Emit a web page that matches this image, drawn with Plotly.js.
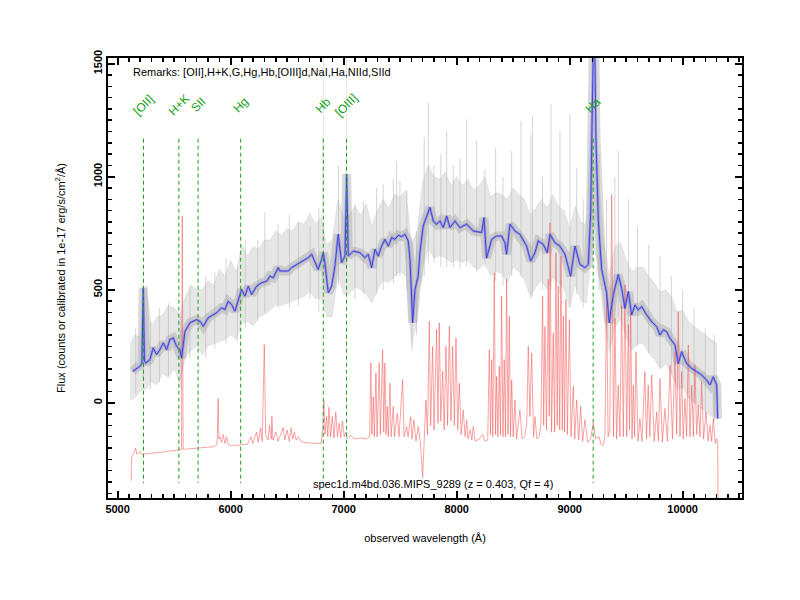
<!DOCTYPE html>
<html>
<head>
<meta charset="utf-8">
<script src="https://cdn.plot.ly/plotly-3.0.1.min.js"></script>
<style>html,body{margin:0;padding:0;background:#fff;}#chart{width:800px;height:600px;}</style>
</head>
<body>
<div id="chart"></div>
<script>
// ---------- data ----------
const blue_x = [5133,5165,5197,5215,5227,5238,5250,5286,5315,5345,5374,5404,5434,5463,5492,5522,5551,5566,5580,5596,5640,5699,5728,5758,5802,5846,5876,5920,5950,5979,6009,6038,6082,6097,6127,6156,6186,6230,6274,6319,6348,6377,6421,6436,6466,6510,6540,6584,6643,6687,6717,6746,6775,6805,6820,6834,6864,6894,6923,6952,6982,7012,7027,7041,7085,7144,7189,7218,7248,7277,7306,7336,7365,7395,7425,7454,7483,7513,7542,7572,7587,7611,7631,7660,7675,7704,7735,7764,7793,7823,7852,7882,7912,7941,7985,8029,8089,8147,8221,8242,8265,8310,8354,8398,8427,8442,8472,8516,8560,8619,8655,8693,8722,8766,8802,8826,8870,8914,8958,9009,9047,9091,9135,9165,9186,9200,9206,9216,9233,9253,9283,9327,9350,9386,9430,9460,9489,9519,9549,9578,9607,9637,9681,9726,9770,9799,9828,9858,9888,9932,9961,9991,10035,10080,10124,10168,10212,10242,10271,10301,10310];
const blue_y = [139,150,161,175,509,185,176,191,243,213,235,265,235,280,287,250,235,198,260,316,354,368,361,339,376,390,398,420,413,449,435,405,472,501,472,516,479,516,531,538,560,553,598,583,583,583,598,612,627,642,657,620,590,634,664,620,487,516,605,745,620,649,1012,649,671,664,642,657,598,679,649,693,723,693,731,723,741,735,745,716,634,354,501,560,664,782,826,864,804,790,804,775,826,775,804,775,790,760,753,819,640,723,738,738,708,657,790,760,745,693,627,664,716,701,664,745,708,693,657,560,693,612,598,612,842,1226,1800,1800,1167,812,590,487,354,478,567,507,418,492,389,433,411,426,389,359,337,300,323,315,285,256,174,226,174,152,138,123,101,79,115,79,-70];

const gray_x  = [5110,5150,5200,5250,5300,5350,5400,5450,5500,5550,5600,5650,5700,5750,5800,5850,5900,5950,6000,6050,6100,6150,6200,6250,6300,6350,6400,6450,6500,6550,6600,6650,6700,6750,6800,6850,6900,6950,7000,7050,7100,7150,7200,7250,7300,7350,7400,7450,7500,7550,7600,7650,7700,7750,7800,7850,7900,7950,8000,8050,8100,8150,8200,8250,8300,8350,8400,8450,8500,8550,8600,8650,8700,8750,8800,8850,8900,8950,9000,9050,9100,9150,9200,9250,9300,9350,9400,9450,9500,9550,9600,9650,9700,9750,9800,9850,9900,9950,10000,10050,10100,10150,10200,10250,10305];
const gray_hi = [260,300,290,520,340,380,390,430,420,390,470,520,500,500,540,520,590,560,630,580,700,650,690,680,720,720,760,740,770,760,800,790,840,790,820,700,720,900,820,830,870,830,880,780,850,900,860,920,910,940,700,760,980,1050,1000,990,1020,960,1000,960,990,940,960,1000,910,930,920,900,950,920,900,830,860,900,860,920,870,850,770,870,800,790,1400,1000,720,560,690,710,630,580,600,600,560,530,490,500,470,400,410,360,340,320,300,280,260];
const gray_lo = [10,20,50,60,90,80,130,110,150,90,200,230,250,210,250,260,270,280,300,280,350,360,340,380,390,410,430,430,440,450,460,470,490,460,460,380,380,560,480,480,510,500,480,440,500,540,530,560,580,560,250,360,600,680,640,650,640,620,630,620,630,600,590,620,560,580,570,530,600,580,540,470,510,540,500,550,530,500,420,520,450,440,700,620,380,220,330,370,290,230,260,260,220,190,150,170,130,60,70,20,0,-20,-40,-60,-60];

// vertical grey streaks (individual noisy spectra)
const streak_x  = [5160,5227,5290,5370,5450,5560,5640,5780,5860,5960,6060,6130,6240,6303,6420,6520,6600,6702,6780,6955,7100,7174,7292,7350,7440,7469,7498,7560,7605,7645,7713,7749,7800,7860,7912,7970,8030,8089,8177,8250,8345,8410,8487,8569,8657,8672,8760,8835,8914,9003,9062,9120,9260,9327,9400,9430,9520,9600,9700,9800,9900,10000,10100,10200,10280];
const streak_lo = [40,100,60,90,120,60,200,200,240,260,270,330,360,400,420,420,430,460,400,520,460,480,480,500,530,560,560,500,230,300,560,620,620,600,600,600,590,600,580,600,540,520,560,560,460,470,500,500,480,420,480,420,500,330,350,380,300,250,220,150,120,60,0,-50,-80];
const streak_hi = [330,520,360,420,440,380,520,560,580,640,600,720,720,843,790,830,800,782,860,1048,880,892,951,966,989,1069,980,940,700,760,1173,1328,1050,1100,1202,1050,1080,1254,1158,1032,1128,1000,1114,1247,1188,1269,1000,1321,1202,1276,1040,900,1100,900,1000,1114,900,780,700,650,560,500,420,330,300];

// faint full-height grey marks at Hb and [OIII]
const faint_x = [6820, 7025];

const red_x = [5120,5124,5150,5160,5170,5200,5210,5250,5300,5350,5400,5450,5500,5540,5565,5572,5580,5600,5650,5700,5750,5800,5850,5880,5890,5896,5905,5920,5935,5950,5965,5980,6000,6050,6100,6150,6180,6195,6230,6245,6265,6280,6298,6310,6330,6345,6360,6365,6375,6400,6420,6465,6480,6500,6520,6535,6550,6565,6580,6600,6620,6650,6700,6750,6800,6815,6825,6835,6850,6860,6870,6885,6900,6915,6930,6945,6960,6975,6990,7005,7020,7030,7060,7100,7150,7200,7230,7241,7250,7262,7272,7286,7296,7315,7325,7345,7355,7365,7375,7386,7395,7410,7420,7439,7450,7474,7490,7522,7535,7557,7570,7593,7605,7622,7640,7660,7680,7699,7712,7728,7742,7758,7770,7788,7800,7811,7823,7835,7846,7860,7876,7890,7905,7920,7935,7950,7965,7980,7994,8010,8023,8040,8058,8075,8089,8100,8120,8135,8147,8165,8200,8230,8250,8275,8289,8300,8310,8320,8333,8344,8354,8365,8377,8388,8398,8410,8421,8432,8442,8455,8466,8477,8487,8500,8516,8530,8560,8580,8600,8620,8634,8648,8664,8680,8693,8710,8730,8745,8761,8770,8781,8795,8811,8820,8826,8840,8855,8867,8879,8890,8899,8912,8923,8935,8944,8955,8967,8980,8997,9012,9032,9045,9062,9080,9097,9115,9135,9160,9185,9209,9230,9260,9280,9297,9312,9327,9340,9355,9372,9388,9401,9415,9430,9445,9460,9475,9489,9505,9519,9530,9540,9552,9563,9575,9587,9605,9622,9640,9666,9680,9695,9710,9726,9748,9770,9785,9799,9820,9843,9865,9888,9910,9932,9947,9961,9976,9991,10005,10020,10035,10050,10065,10080,10095,10109,10124,10138,10153,10168,10185,10206,10225,10242,10256,10271,10288,10301,10310,10314];
const red_y = [-345,-240,-215,-200,-228,-215,-228,-225,-222,-220,-218,-214,-212,-210,-206,826,-205,-205,-203,-202,-200,-198,-194,-185,20,-160,-150,-175,-140,-180,-150,-185,-188,-188,-186,-183,-150,-180,-130,-175,-110,-170,257,-140,-165,-100,-160,-60,-165,-130,-170,-110,-165,-120,-170,-110,-160,-130,-165,-150,-170,-175,-178,-180,-180,-120,10,-140,-60,-150,-20,-150,-60,-155,-40,-150,-90,-155,-80,-150,-130,-160,-145,-160,-155,-160,-150,176,-140,28,-150,132,-150,176,-140,235,-130,176,-140,-16,-150,87,-150,-16,-150,-46,-150,102,-150,-105,-150,-61,-160,-75,-170,-105,-180,-330,-150,13,-140,361,-100,250,-120,120,324,-90,354,-80,139,-120,250,-100,338,-80,250,-100,287,-120,87,-140,-31,-150,-75,-160,-120,-165,-105,-170,-160,-140,-170,-165,235,-140,191,-150,575,-140,117,-150,161,-140,472,-150,191,-150,546,-140,383,-150,102,-150,13,-160,-31,-160,-150,-100,250,-60,220,-150,-61,-160,-150,-100,472,-100,338,-120,546,-60,797,-130,309,-130,664,-100,516,-120,649,-120,383,-130,457,-140,368,-150,72,-160,13,-165,-16,-170,-75,-175,-160,-90,-160,-150,-185,-188,-150,480,-150,-120,921,-150,374,-160,78,-150,433,-150,522,-150,345,-120,404,-160,78,-150,226,-170,-70,-170,138,-160,78,-150,123,-170,-40,-170,108,-175,-25,-170,167,-160,226,-140,404,-150,138,-160,19,-150,256,-150,78,-150,167,-140,-10,-150,93,-160,-40,-170,-99,-170,-70,-180,-158,-190,-520];

// identified lines (observed wavelength) and labels
const line_x     = [5229, 5542, 5712, 6089, 6820, 7025, 9208];
const line_names = ['[OII]', 'H+K', 'SII', 'Hg', 'Hb', '[OIII]', 'Ha'];

const remarks  = 'Remarks: [OII],H+K,G,Hg,Hb,[OIII]d,NaI,Ha,NIId,SIId';
const specname = 'spec1d.m4bd.036.MIPS_9289 (z = 0.403, Qf = 4)';
const x_title  = 'observed wavelength (Å)';
const y_title  = 'Flux (counts or calibrated in 1e-17 erg/s/cm<sup>2</sup>/Å)';

// ---------- build traces ----------
const FONT = 'Liberation Sans, Arial, Helvetica, sans-serif';
const traces = [];

// grey envelope
traces.push({x: gray_x, y: gray_lo, mode: 'lines', line: {color: 'rgba(205,205,205,0.5)', width: 0.5}, hoverinfo: 'skip'});
traces.push({x: gray_x, y: gray_hi, mode: 'lines', fill: 'tonexty', fillcolor: 'rgba(210,210,210,0.55)', line: {color: 'rgba(200,200,200,0.6)', width: 0.6}, hoverinfo: 'skip'});

// grey streaks
const sx = [], sy = [];
streak_x.forEach((v, i) => { sx.push(v, v, null); sy.push(streak_lo[i], streak_hi[i], null); });
traces.push({x: sx, y: sy, mode: 'lines', line: {color: 'rgba(185,185,185,0.75)', width: 0.8}, hoverinfo: 'skip'});

const fx = [], fy = [];
faint_x.forEach(v => { fx.push(v, v, null); fy.push(600, 1600, null); });
traces.push({x: fx, y: fy, mode: 'lines', line: {color: 'rgba(205,205,205,0.7)', width: 0.8}, hoverinfo: 'skip'});

// grey core following mean
traces.push({x: blue_x, y: blue_y, mode: 'lines', line: {color: 'rgba(165,165,165,0.42)', width: 9}, hoverinfo: 'skip'});

// red spectrum
traces.push({x: red_x, y: red_y, mode: 'lines', line: {color: 'rgba(245,90,90,0.7)', width: 0.8}, hoverinfo: 'skip'});

// blue band + line
traces.push({x: blue_x, y: blue_y, mode: 'lines', line: {color: 'rgba(110,110,235,0.5)', width: 2.6}, hoverinfo: 'skip'});
traces.push({x: blue_x, y: blue_y, mode: 'lines', line: {color: 'rgb(60,60,215)', width: 0.9}, hoverinfo: 'skip'});

// green dashed line markers
const gx = [], gy = [];
line_x.forEach(v => { gx.push(v, v, null); gy.push(1168, -355, null); });
traces.push({x: gx, y: gy, mode: 'lines', line: {color: 'rgb(30,160,30)', width: 1, dash: '4px,3px'}, hoverinfo: 'skip'});

const annotations = line_x.map((v, i) => ({
  x: v, y: 1318, xref: 'x', yref: 'y', text: line_names[i], showarrow: false,
  textangle: -45, xanchor: 'center', yanchor: 'middle',
  font: {family: FONT, size: 12, color: 'rgb(20,160,20)'}
}));
annotations.push({x: 5115, y: 1462, xref: 'x', yref: 'y', text: remarks, showarrow: false, xanchor: 'left', yanchor: 'middle', font: {family: FONT, size: 11, color: 'black'}});
annotations.push({x: 7790, y: -357, xref: 'x', yref: 'y', text: specname, showarrow: false, xanchor: 'center', yanchor: 'middle', font: {family: FONT, size: 11, color: 'black'}});

const axisCommon = {
  showgrid: false, zeroline: false, showline: true, linecolor: 'black', linewidth: 2,
  mirror: 'ticks', ticks: 'inside', ticklen: 7, tickwidth: 2, tickcolor: 'black',
  tickformat: 'd',
  tickfont: {family: FONT, size: 11, color: 'black', weight: 'bold'},
  fixedrange: true
};

const layout = {
  width: 800, height: 600,
  margin: {l: 108, r: 58, t: 58, b: 102},
  paper_bgcolor: 'white', plot_bgcolor: 'white',
  showlegend: false,
  xaxis: Object.assign({}, axisCommon, {
    range: [4915, 10525], tick0: 0, dtick: 1000,
    minor: {ticks: 'inside', dtick: 100, ticklen: 4, tickwidth: 1.5, tickcolor: 'black'},
    title: {text: x_title, font: {family: FONT, size: 11, color: 'black'}, standoff: 20}
  }),
  yaxis: Object.assign({}, axisCommon, {
    range: [-421, 1525], tick0: 0, dtick: 500, tickangle: -90,
    minor: {ticks: 'inside', dtick: 50, ticklen: 4, tickwidth: 1.5, tickcolor: 'black'},
    title: {text: y_title, font: {family: FONT, size: 11, color: 'black'}, standoff: 24}
  }),
  annotations: annotations
};

Plotly.newPlot('chart', traces, layout, {displayModeBar: false, staticPlot: true});
</script>
</body>
</html>
